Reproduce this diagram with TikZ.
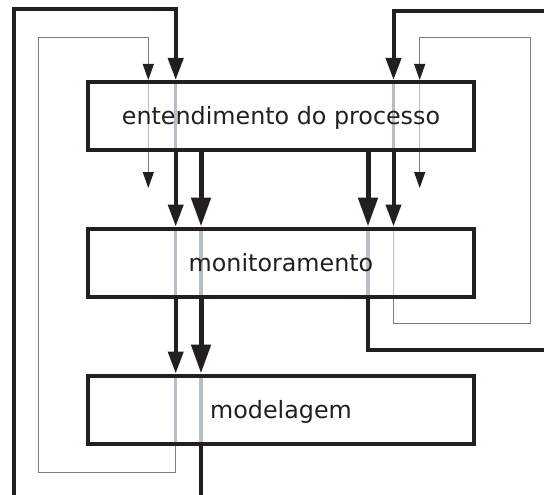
\documentclass[tikz,border=0pt]{standalone}
\usepackage{fontspec}
\setmainfont{DejaVu Sans}
\usetikzlibrary{arrows.meta,positioning}
\definecolor{ink}{RGB}{35,31,32}
\definecolor{pass}{RGB}{184,190,198}
\definecolor{wire}{RGB}{125,125,125}
\pgfdeclarelayer{background}
\pgfsetlayers{background,main}
\tikzstyle{stage} = [draw=ink,line width=4pt,rectangle,minimum width=386.5pt,minimum height=68pt,inner sep=0,text=ink,text height=17pt,text depth=0pt,font=\fontsize{23.8}{28}\selectfont]
\tikzstyle{feedback} = [draw=wire,line width=1pt,-{Triangle[width=11pt,length=16pt,color=ink]}]
\tikzstyle{flow} = [draw=ink,line width=4pt,-{Triangle[width=15pt,length=22pt]}]
\tikzstyle{mainflow} = [draw=ink,line width=5pt,-{Triangle[width=19pt,length=29pt]}]
\tikzstyle{through} = [draw=pass]
\def \drop {36}

\begin{document}
\begin{tikzpicture}[x=1pt,y=-1pt]
  \useasboundingbox (0,0) rectangle (544,495);
  \clip (0,0) rectangle (544,495);
  % stages
  \node[stage] (ent) at (281,116) {entendimento do processo};
  \node[stage] (mon) at (281,262.5) {monitoramento};
  \node[stage] (mod) at (281,409.5) {modelagem};
  % columns
  \coordinate (a) at (148.3,0);
  \coordinate (b) at (175.7,0);
  \coordinate (c) at (201,0);
  \coordinate (d) at (368,0);
  \coordinate (e) at (393.5,0);
  \coordinate (f) at (419.7,0);
  % loop corners
  \coordinate (lb) at (14,510);
  \coordinate (lt) at (14,9.5);
  \coordinate (rb) at (560,350);
  \coordinate (rt) at (560,11);
  \coordinate (lw) at (38.5,472.5);
  \coordinate (lwt) at (38.5,37.5);
  \coordinate (rw) at (530.5,323);
  \coordinate (rwt) at (530.5,38);
  % lines seen through the stages
  \begin{pgfonlayer}{background}
    \draw[through,line width=1.3pt] (ent.north -| a) -- (ent.south -| a);
    \draw[through,line width=3.5pt] (ent.north -| b) -- (ent.south -| b);
    \draw[through,line width=3.5pt] (ent.north -| e) -- (ent.south -| e);
    \draw[through,line width=1.3pt] (ent.north -| f) -- (ent.south -| f);
    \draw[through,line width=2.5pt] (mon.north -| b) -- (mon.south -| b);
    \draw[through,line width=4.5pt] (mon.north -| c) -- (mon.south -| c);
    \draw[through,line width=4.5pt] (mon.north -| d) -- (mon.south -| d);
    \draw[through,line width=1.8pt] (mon.north -| e) -- (mon.south -| e);
    \draw[through,line width=2.5pt] (mod.north -| b) -- (mod.south -| b);
    \draw[through,line width=4.5pt] (mod.north -| c) -- (mod.south -| c);
  \end{pgfonlayer}
  % outer loops
  \draw[flow] (mod.south -| c) |- (lb) -- (lt) -| (ent.north -| b);
  \draw[flow] (mon.south -| d) |- (rb) -- (rt) -| (ent.north -| e);
  % inner loops
  \draw[feedback] (mod.south -| b) |- (lw) -- (lwt) -| (ent.north -| a);
  \draw[feedback] (mon.south -| e) |- (rw) -- (rwt) -| (ent.north -| f);
  \draw[feedback] (ent.south -| a) -- +(0,\drop);
  \draw[feedback] (ent.south -| f) -- +(0,\drop);
  % downward flows
  \draw[flow] (ent.south -| b) -- (mon.north -| b);
  \draw[flow] (mon.south -| b) -- (mod.north -| b);
  \draw[flow] (ent.south -| e) -- (mon.north -| e);
  \draw[mainflow] (ent.south -| c) -- (mon.north -| c);
  \draw[mainflow] (mon.south -| c) -- (mod.north -| c);
  \draw[mainflow] (ent.south -| d) -- (mon.north -| d);
\end{tikzpicture}
\end{document}
